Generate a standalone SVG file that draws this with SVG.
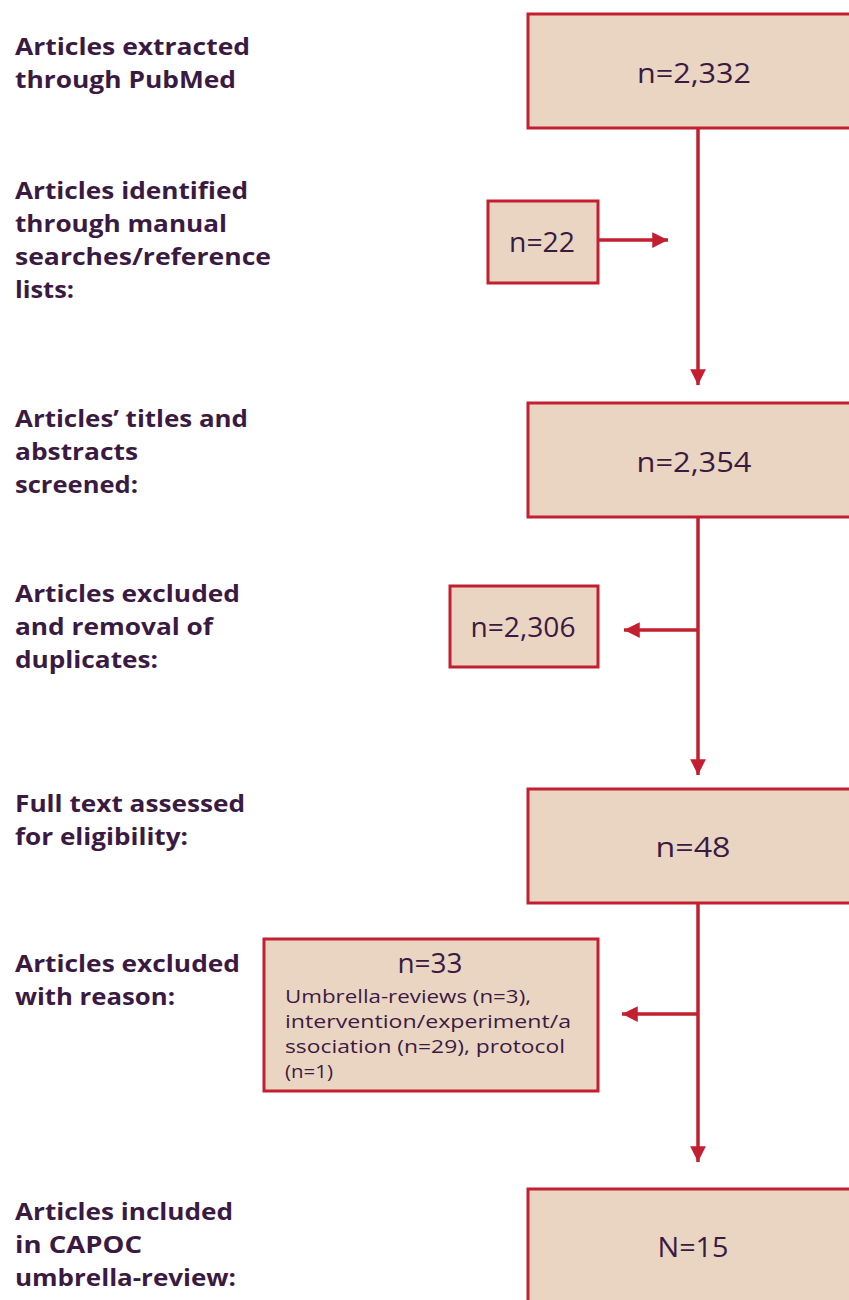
<svg xmlns="http://www.w3.org/2000/svg" width="849" height="1300" viewBox="0 0 849 1300">
<style>
.box{fill:#ead5c3;stroke:#c21f30;stroke-width:3}
.lbl{font-family:"Open Sans","Noto Sans",sans-serif;font-weight:bold;font-size:24px;fill:#3b1a42}
.num{font-family:"Open Sans","Noto Sans",sans-serif;font-size:27px;fill:#3b1a42;text-anchor:middle}
.sm{font-family:"Open Sans","Noto Sans",sans-serif;font-size:19px;fill:#3b1a42}
.ln{stroke:#c21f30;stroke-width:3.5;fill:none}
</style>
<defs>
<marker id="ah" viewBox="0 0 10 10" refX="10" refY="5" markerWidth="4.5" markerHeight="4.5" markerUnits="strokeWidth" orient="auto">
<path d="M0,0 L10,5 L0,10 z" fill="#c21f30"/>
</marker>
</defs>
<g id="labels">
<text class="lbl" x="15" y="55" textLength="235" lengthAdjust="spacingAndGlyphs">Articles extracted</text>
<text class="lbl" x="15" y="88" textLength="221" lengthAdjust="spacingAndGlyphs">through PubMed</text>
<text class="lbl" x="15" y="199" textLength="233" lengthAdjust="spacingAndGlyphs">Articles identified</text>
<text class="lbl" x="15" y="232" textLength="212" lengthAdjust="spacingAndGlyphs">through manual</text>
<text class="lbl" x="15" y="265" textLength="256" lengthAdjust="spacingAndGlyphs">searches/reference</text>
<text class="lbl" x="15" y="298" textLength="59" lengthAdjust="spacingAndGlyphs">lists:</text>
<text class="lbl" x="15" y="427" textLength="233" lengthAdjust="spacingAndGlyphs">Articles’ titles and</text>
<text class="lbl" x="15" y="460" textLength="123" lengthAdjust="spacingAndGlyphs">abstracts</text>
<text class="lbl" x="15" y="493" textLength="123" lengthAdjust="spacingAndGlyphs">screened:</text>
<text class="lbl" x="15" y="602" textLength="225" lengthAdjust="spacingAndGlyphs">Articles excluded</text>
<text class="lbl" x="15" y="635" textLength="198" lengthAdjust="spacingAndGlyphs">and removal of</text>
<text class="lbl" x="15" y="668" textLength="143" lengthAdjust="spacingAndGlyphs">duplicates:</text>
<text class="lbl" x="15" y="812" textLength="230" lengthAdjust="spacingAndGlyphs">Full text assessed</text>
<text class="lbl" x="15" y="845" textLength="173" lengthAdjust="spacingAndGlyphs">for eligibility:</text>
<text class="lbl" x="15" y="972" textLength="225" lengthAdjust="spacingAndGlyphs">Articles excluded</text>
<text class="lbl" x="15" y="1005" textLength="160" lengthAdjust="spacingAndGlyphs">with reason:</text>
<text class="lbl" x="15" y="1220" textLength="218" lengthAdjust="spacingAndGlyphs">Articles included</text>
<text class="lbl" x="15" y="1253" textLength="127" lengthAdjust="spacingAndGlyphs">in CAPOC</text>
<text class="lbl" x="15" y="1286" textLength="221" lengthAdjust="spacingAndGlyphs">umbrella-review:</text>
</g>
<g id="connectors">
<line class="ln" x1="698" y1="129" x2="698" y2="385" marker-end="url(#ah)"/>
<line class="ln" x1="599" y1="240" x2="668" y2="240" marker-end="url(#ah)"/>
<line class="ln" x1="698" y1="518" x2="698" y2="775" marker-end="url(#ah)"/>
<line class="ln" x1="698" y1="630" x2="624" y2="630" marker-end="url(#ah)"/>
<line class="ln" x1="698" y1="904" x2="698" y2="1162" marker-end="url(#ah)"/>
<line class="ln" x1="698" y1="1014" x2="622" y2="1014" marker-end="url(#ah)"/>
</g>
<g id="n1"><rect class="box" x="528" y="14" width="330" height="114"/><text class="num" x="694" y="83" textLength="114" lengthAdjust="spacingAndGlyphs">n=2,332</text></g>
<g id="n22"><rect class="box" x="488" y="201" width="110" height="82"/><text class="num" x="542" y="252" textLength="66" lengthAdjust="spacingAndGlyphs">n=22</text></g>
<g id="n2"><rect class="box" x="528" y="403" width="330" height="114"/><text class="num" x="694" y="472" textLength="115" lengthAdjust="spacingAndGlyphs">n=2,354</text></g>
<g id="n2306"><rect class="box" x="450" y="586" width="148" height="81"/><text class="num" x="523" y="637" textLength="105" lengthAdjust="spacingAndGlyphs">n=2,306</text></g>
<g id="n3"><rect class="box" x="528" y="789" width="330" height="114"/><text class="num" x="693" y="857" textLength="75" lengthAdjust="spacingAndGlyphs">n=48</text></g>
<g id="n33"><rect class="box" x="264" y="939" width="334" height="152"/>
<text class="num" x="430" y="973" font-size="25" textLength="65" lengthAdjust="spacingAndGlyphs">n=33</text>
<text class="sm" x="285" y="1003" textLength="246" lengthAdjust="spacingAndGlyphs">Umbrella-reviews (n=3),</text>
<text class="sm" x="285" y="1028" textLength="286" lengthAdjust="spacingAndGlyphs">intervention/experiment/a</text>
<text class="sm" x="285" y="1053" textLength="280" lengthAdjust="spacingAndGlyphs">ssociation (n=29), protocol</text>
<text class="sm" x="285" y="1078" textLength="48" lengthAdjust="spacingAndGlyphs">(n=1)</text>
</g>
<g id="n4"><rect class="box" x="528" y="1189" width="330" height="130"/><text class="num" x="693" y="1257" textLength="71" lengthAdjust="spacingAndGlyphs">N=15</text></g>
</svg>
